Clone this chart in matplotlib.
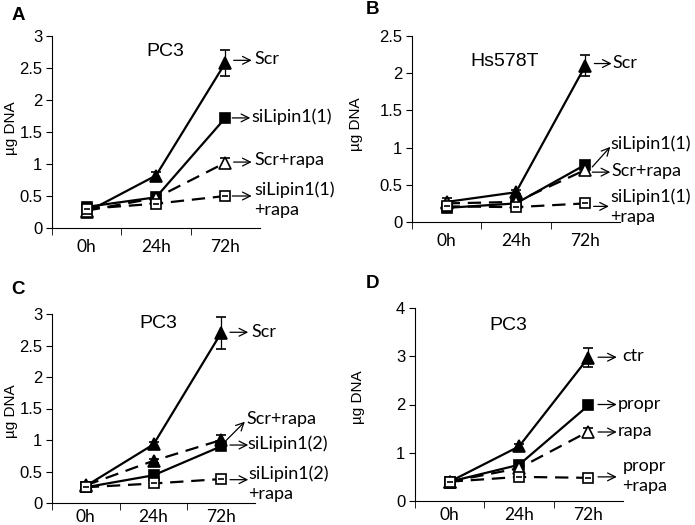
import matplotlib
matplotlib.use("Agg")
import matplotlib.pyplot as plt
import numpy as np

plt.rcParams['font.family'] = ['Liberation Sans', 'DejaVu Sans']

# --- data ---
times = ['0h', '24h', '72h']

# A: PC3, siLipin1(1)
a_scr = [0.25, 0.82, 2.58]
a_scr_err = [0.03, 0.05, 0.20]
a_sil = [0.33, 0.48, 1.72]
a_sil_err = [0.03, 0.03, 0.05]
a_scr_rapa = [0.27, 0.47, 1.02]
a_scr_rapa_err = [0.02, 0.03, 0.07]
a_sil_rapa = [0.30, 0.38, 0.50]
a_sil_rapa_err = [0.02, 0.02, 0.03]

# B: Hs578T, siLipin1(1)
b_scr = [0.27, 0.40, 2.10]
b_scr_err = [0.05, 0.03, 0.14]
b_sil = [0.19, 0.25, 0.77]
b_sil_err = [0.02, 0.02, 0.04]
b_scr_rapa = [0.25, 0.27, 0.70]
b_scr_rapa_err = [0.02, 0.02, 0.03]
b_sil_rapa = [0.21, 0.20, 0.25]
b_sil_rapa_err = [0.02, 0.02, 0.02]

# C: PC3, siLipin1(2)
c_scr = [0.27, 0.93, 2.70]
c_scr_err = [0.03, 0.04, 0.25]
c_scr_rapa = [0.28, 0.67, 1.00]
c_scr_rapa_err = [0.02, 0.03, 0.08]
c_sil = [0.25, 0.44, 0.90]
c_sil_err = [0.02, 0.03, 0.04]
c_sil_rapa = [0.25, 0.31, 0.38]
c_sil_rapa_err = [0.02, 0.02, 0.03]

# D: PC3, propranolol
d_ctr = [0.40, 1.13, 2.97]
d_ctr_err = [0.03, 0.06, 0.20]
d_propr = [0.40, 0.75, 1.98]
d_propr_err = [0.03, 0.04, 0.05]
d_rapa = [0.40, 0.68, 1.44]
d_rapa_err = [0.02, 0.04, 0.08]
d_propr_rapa = [0.40, 0.50, 0.48]
d_propr_rapa_err = [0.02, 0.03, 0.03]

W, H = 695, 525
fig = plt.figure(figsize=(W / 100, H / 100), dpi=100)
LBL_FONT = ['Lato', 'DejaVu Sans']


def px_axes(x0, y0, x1, y1):
    # pixel box (left, top, right, bottom) -> axes
    return fig.add_axes([x0 / W, 1 - y1 / H, (x1 - x0) / W, (y1 - y0) / H])


def series(ax, vals, err, marker, filled, dashed):
    x = np.arange(len(vals))
    ax.errorbar(x, vals, yerr=err, color='black', lw=1.6,
                ls=(0, (6, 3.5)) if dashed else '-',
                marker=marker, ms=8.5 if marker == '^' else 7.5,
                mfc='black' if filled else 'white', mec='black', mew=1.2,
                ecolor='black', elinewidth=0.9, capsize=3.5, clip_on=False, zorder=3)
    if not filled and marker == 's':
        ax.plot(x, vals, ls='none', marker='_', ms=4, mew=1.2, color='black', zorder=4)


def style(ax, ymax, ystep, xpad):
    ax.set_xlim(-0.5, 2.5)
    ax.set_ylim(0, ymax)
    for s in ['top', 'right']:
        ax.spines[s].set_visible(False)
    ax.set_xticks(range(len(times)))
    ax.set_xticklabels(times, fontsize=12.5, family=LBL_FONT)
    ax.set_xticks([-0.5, 0.5, 1.5], minor=True)
    ax.tick_params(axis='x', which='major', length=0, pad=xpad)
    ax.tick_params(axis='x', which='minor', length=5, direction='out')
    yt = np.arange(0, ymax + 1e-9, ystep)
    ax.set_yticks(yt)
    ax.set_yticklabels(['%g' % v for v in yt], fontsize=12)
    ax.tick_params(axis='y', length=4, direction='out', pad=3)


def label(ax, text, tail, head, tpos):
    ax.annotate('', xy=head, xytext=tail, annotation_clip=False,
                arrowprops=dict(arrowstyle='->', color='black', lw=0.9,
                                shrinkA=0, shrinkB=0, mutation_scale=14))
    ax.text(tpos[0], tpos[1], text, fontsize=13, va='center', ha='left',
            family=LBL_FONT, linespacing=1.3, clip_on=False)


# ---- A ----
axA = px_axes(52, 36, 260, 228)
series(axA, a_scr, a_scr_err, '^', True, False)
series(axA, a_sil, a_sil_err, 's', True, False)
series(axA, a_scr_rapa, a_scr_rapa_err, '^', False, True)
series(axA, a_sil_rapa, a_sil_rapa_err, 's', False, True)
style(axA, 3, 0.5, 8)
label(axA, 'Scr', (2.12, 2.62), (2.38, 2.62), (2.42, 2.64))
label(axA, 'siLipin1(1)', (2.1, 1.72), (2.36, 1.72), (2.38, 1.74))
label(axA, 'Scr+rapa', (2.12, 1.03), (2.38, 1.03), (2.42, 1.06))
label(axA, 'siLipin1(1)\n+rapa', (2.1, 0.5), (2.38, 0.5), (2.42, 0.44))
fig.text(165 / W, 1 - 52 / H, 'PC3', fontsize=14, ha='center', va='center')

# ---- B ----
axB = px_axes(412, 36, 620, 222)
series(axB, b_scr, b_scr_err, '^', True, False)
series(axB, b_sil, b_sil_err, 's', True, False)
series(axB, b_scr_rapa, b_scr_rapa_err, '^', False, True)
series(axB, b_sil_rapa, b_sil_rapa_err, 's', False, True)
style(axB, 2.5, 0.5, 8)
label(axB, 'Scr', (2.13, 2.13), (2.38, 2.13), (2.39, 2.14))
label(axB, 'siLipin1(1)', (2.1, 0.74), (2.36, 1.01), (2.36, 1.05))
label(axB, 'Scr+rapa', (2.1, 0.67), (2.36, 0.67), (2.37, 0.68))
label(axB, 'siLipin1(1)\n+rapa', (2.12, 0.21), (2.34, 0.21), (2.36, 0.2))
fig.text(505 / W, 1 - 62 / H, 'Hs578T', fontsize=14, ha='center', va='center')

# ---- C ----
axC = px_axes(52, 314, 255, 503)
series(axC, c_scr, c_scr_err, '^', True, False)
series(axC, c_scr_rapa, c_scr_rapa_err, '^', True, True)
series(axC, c_sil, c_sil_err, 's', True, False)
series(axC, c_sil_rapa, c_sil_rapa_err, 's', False, True)
style(axC, 3, 0.5, 4)
label(axC, 'Scr', (2.13, 2.71), (2.4, 2.71), (2.44, 2.72))
label(axC, 'Scr+rapa', (2.08, 1.0), (2.35, 1.29), (2.37, 1.34))
label(axC, 'siLipin1(2)', (2.13, 0.92), (2.4, 0.92), (2.38, 0.94))
label(axC, 'siLipin1(2)\n+rapa', (2.13, 0.37), (2.4, 0.37), (2.4, 0.31))
fig.text(158 / W, 1 - 324 / H, 'PC3', fontsize=14, ha='center', va='center')

# ---- D ----
axD = px_axes(415, 308, 623, 501)
series(axD, d_ctr, d_ctr_err, '^', True, False)
series(axD, d_propr, d_propr_err, 's', True, False)
series(axD, d_rapa, d_rapa_err, '^', False, True)
series(axD, d_propr_rapa, d_propr_rapa_err, 's', False, True)
style(axD, 4, 1, 4)
label(axD, 'ctr', (2.14, 2.98), (2.41, 2.98), (2.49, 3.0))
label(axD, 'propr', (2.14, 2.0), (2.41, 2.0), (2.42, 2.02))
label(axD, 'rapa', (2.14, 1.43), (2.41, 1.43), (2.43, 1.45))
label(axD, 'propr\n+rapa', (2.14, 0.5), (2.41, 0.5), (2.49, 0.52))
fig.text(508 / W, 1 - 325 / H, 'PC3', fontsize=14, ha='center', va='center')

# y labels and panel letters
for (x, y) in [(11, 128), (356, 124), (11, 411), (358, 397)]:
    fig.text(x / W, 1 - y / H, 'µg DNA', fontsize=11, rotation=90,
             ha='center', va='center')
for (x, y, s) in [(18, 15, 'A'), (373, 9, 'B'), (18, 290, 'C'), (373, 283, 'D')]:
    fig.text(x / W, 1 - y / H, s, fontsize=13.5, fontweight='bold',
             ha='center', va='center')

fig.savefig('out.png', dpi=100)
